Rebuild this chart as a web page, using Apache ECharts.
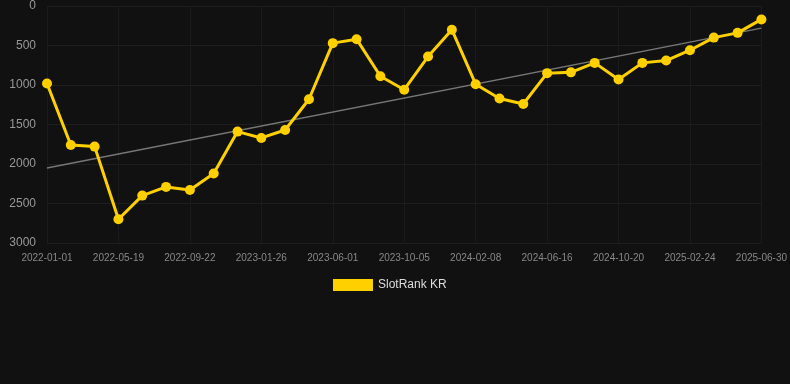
<!DOCTYPE html>
<html>
<head>
<meta charset="utf-8">
<script src="https://cdn.jsdelivr.net/npm/echarts@6/dist/echarts.min.js"></script>
<style>
  html, body { margin: 0; padding: 0; background: #111111; }
  #chart { width: 790px; height: 384px; }
</style>
</head>
<body>
<div id="chart"></div>
<script>
// 日期 (x 轴)
var dates = [
  '2022-01-01', '2022-02-16', '2022-04-03', '2022-05-19', '2022-06-30', '2022-08-11',
  '2022-09-22', '2022-11-03', '2022-12-15', '2023-01-26', '2023-03-09', '2023-04-20',
  '2023-06-01', '2023-07-13', '2023-08-24', '2023-10-05', '2023-11-16', '2023-12-28',
  '2024-02-08', '2024-03-21', '2024-05-04', '2024-06-16', '2024-07-28', '2024-09-08',
  '2024-10-20', '2024-12-01', '2025-01-12', '2025-02-24', '2025-04-07', '2025-05-19',
  '2025-06-30'
];
// 排名
var rankKR = [
  980, 1760, 1780, 2700, 2400, 2290,
  2330, 2120, 1590, 1670, 1570, 1180,
  470, 420, 890, 1060, 640, 300,
  990, 1170, 1240, 850, 840, 720,
  930, 720, 690, 560, 400, 340,
  170
];
// 趋势线起止值
var trendEnds = [2050, 280];
var yTicks = [0, 500, 1000, 1500, 2000, 2500, 3000];

var chart = echarts.init(document.getElementById('chart'));
var option = {
  backgroundColor: '#111111',
  animation: false,
  grid: { left: 47, right: 28, top: 6, bottom: 141 },
  legend: {
    data: ['SlotRank KR'],
    top: 274,
    left: 328,
    itemWidth: 40,
    itemHeight: 12,
    icon: 'rect',
    textStyle: { color: '#dddddd', fontSize: 12, fontFamily: 'Liberation Sans, Arial, sans-serif' }
  },
  xAxis: {
    type: 'category',
    data: dates,
    boundaryGap: false,
    axisLine: { show: false },
    axisTick: { show: false },
    axisLabel: { interval: 2, color: '#888888', fontSize: 10, margin: 10, fontFamily: 'Liberation Sans, Arial, sans-serif' },
    splitLine: { show: true, interval: 2, lineStyle: { color: '#1b1b1b', width: 1 } }
  },
  yAxis: {
    type: 'value',
    inverse: true,
    min: yTicks[0],
    max: yTicks[yTicks.length - 1],
    interval: 500,
    axisLine: { show: false },
    axisTick: { show: false },
    axisLabel: {
      color: '#999999', fontSize: 12, margin: 11, fontFamily: 'Liberation Sans, Arial, sans-serif',
      formatter: function (v) { return String(v); }
    },
    splitLine: { lineStyle: { color: '#1e1e1e', width: 1 } }
  },
  series: [
    {
      name: 'SlotRank KR',
      type: 'line',
      data: rankKR,
      symbol: 'circle',
      symbolSize: 10,
      z: 3,
      lineStyle: { color: '#ffd000', width: 3 },
      itemStyle: { color: '#ffd000' }
    },
    {
      name: 'trend',
      type: 'line',
      data: [[dates[0], trendEnds[0]], [dates[dates.length - 1], trendEnds[1]]],
      showSymbol: false,
      symbol: 'none',
      z: 2,
      lineStyle: { color: '#777777', width: 1.5 },
      itemStyle: { color: '#777777' }
    }
  ]
};
chart.setOption(option);
</script>
</body>
</html>
